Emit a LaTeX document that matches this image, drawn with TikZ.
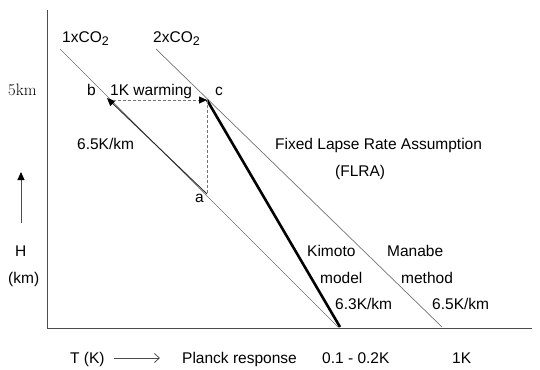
\documentclass[tikz,border=0pt]{standalone}
\usepackage{fontspec}
\setsansfont{Liberation Sans}
\usetikzlibrary{arrows.meta}
\newcommand{\cotwo}{CO\raisebox{-0.25ex}{\fontsize{12.5}{12.5}\selectfont 2}}
\begin{document}
\begin{tikzpicture}[x=1pt,y=-1pt,
  lbl/.style={font=\sffamily\fontsize{15.5}{18}\selectfont, inner sep=0pt, anchor=base west, text=black},
  axisline/.style={draw=black!70, line width=1pt},
  co2line/.style={draw=black!55, line width=0.7pt},
  thickline/.style={draw=black, line width=2.6pt},
  dashline/.style={draw=black!55, line width=0.8pt, dash pattern=on 3pt off 2pt},
  tipfill/.style={-{Triangle[length=8pt,width=7pt,color=black,fill=black]}}
]
\useasboundingbox (0,0) rectangle (540,369);
% axes
\coordinate (ytop) at (47,10);
\coordinate (orig) at (47,328);
\coordinate (xend) at (532,328);
\draw[axisline] (ytop) -- (orig) -- (xend);
% CO2 profiles
\coordinate (s1) at (60,49);
\coordinate (e1) at (338,327);
\coordinate (s2) at (156,49);
\coordinate (e2) at (442,327);
\draw[co2line] (s1) -- (e1);
\draw[co2line] (s2) -- (e2);
% points
\coordinate (a) at (207,194);
\coordinate (b) at (107,98);
\coordinate (c) at (207,100);
\coordinate (k) at (340,327);
\coordinate (dstart) at (113,100);
% Kimoto thick line
\draw[thickline] (c) -- (k);
% arrow a -> b
\draw[black!85, line width=0.9pt, tipfill] (a) -- (b);
% dashed lines
\draw[dashline, tipfill] (dstart) -- (c);
\draw[dashline] (c) -- (a);
% left up arrow
\coordinate (hb) at (21,223);
\coordinate (ht) at (21,172);
\draw[black!70, line width=0.9pt, tipfill] (hb) -- (ht);
% labels
\node[lbl] (l1) at (62,43) {1x\cotwo};
\node[lbl] (l2) at (153,43) {2x\cotwo};
\node[inner sep=0pt, anchor=base west, font=\rmfamily\fontsize{16.5}{19}\selectfont] (l5) at (8,95) {5km};
\node[lbl] (lb) at (87,95) {b};
\node[lbl] (lw) at (110,95) {1K warming};
\node[lbl] (lc) at (215,95) {c};
\node[lbl] (lr1) at (77,149) {6.5K/km};
\node[lbl] (lf) at (275,149) {Fixed Lapse Rate Assumption};
\node[lbl] (lfl) at (335,176) {(FLRA)};
\node[lbl] (la) at (195,202) {a};
\node[lbl] (lh) at (15,256) {H};
\node[lbl] (lkm) at (8,283) {(km)};
\node[lbl] (lk1) at (307,256) {Kimoto};
\node[lbl] (lk2) at (320,283) {model};
\node[lbl] (lk3) at (335,309) {6.3K/km};
\node[lbl] (lm1) at (387,256) {Manabe};
\node[lbl] (lm2) at (401,283) {method};
\node[lbl] (lm3) at (432,309) {6.5K/km};
\node[lbl] (lt) at (70,363) {T (K)};
\node[lbl] (lp) at (182,363) {Planck response};
\node[lbl] (lpv) at (322,363) {0.1 - 0.2K};
\node[lbl] (l1k) at (452,363) {1K};
% T arrow
\draw[black!70, line width=0.8pt, -{Straight Barb[length=5pt,width=9pt]}] ([xshift=9pt,yshift=5pt]lt.base east) -- ([xshift=-22pt,yshift=5pt]lp.base west);
\end{tikzpicture}
\end{document}
